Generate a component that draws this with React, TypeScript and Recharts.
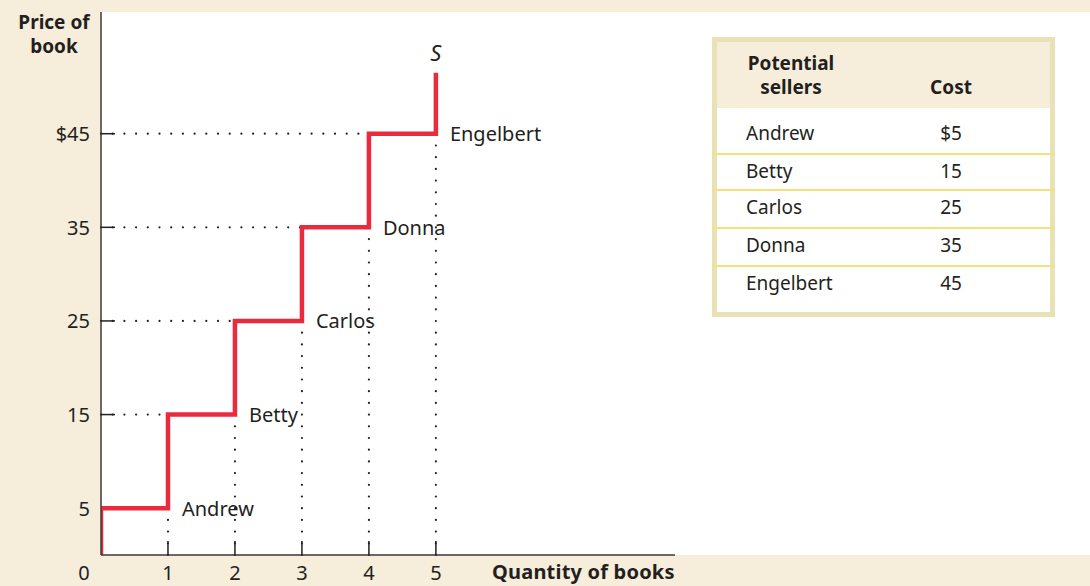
import { ComposedChart, Line, Scatter, XAxis, YAxis, ReferenceLine, ReferenceDot } from "recharts"

// potential sellers and their cost
const sellers = ["Andrew", "Betty", "Carlos", "Donna", "Engelbert"]
const costs = [5, 15, 25, 35, 45]
const supplyTop = 51.5
const quantityTicks = [0, 1, 2, 3, 4, 5]
const priceTicks = [5, 15, 25, 35, 45]

const INK = "#231f20"
const RED = "#ea2a3d"
const FONT = "'Noto Sans', sans-serif"

// supply curve: start at 0, then each seller's cost, then the top stub
const supplyData = [
  { qty: 0, price: 0 },
  ...costs.map((c, i) => ({ qty: i, price: c })),
  { qty: costs.length, price: supplyTop },
]
const sellerPoints = sellers.map((name, i) => ({ qty: i + 1, price: costs[i], name }))

const YTick = (props: any) => {
  const { x, y, payload } = props
  const label = payload.value === 45 ? "$45" : String(payload.value)
  // lowest tick sits under the first step of the curve
  const showLine = payload.value !== costs[0]
  return (
    <g>
      {showLine && <line x1={x} x2={x + 14} y1={y} y2={y} stroke={INK} strokeWidth={1.5} />}
      <text x={x - 11} y={y} textAnchor="end" dominantBaseline="central" fill={INK} fontSize={20} fontFamily={FONT}>
        {label}
      </text>
    </g>
  )
}

const XTick = (props: any) => {
  const { x, y, payload } = props
  const zero = payload.value === 0
  return (
    <g>
      {!zero && <line x1={x} x2={x} y1={y} y2={y - 14} stroke={INK} strokeWidth={1.5} />}
      <text x={zero ? x - 17 : x} y={y + 17} textAnchor="middle" dominantBaseline="central" fill={INK} fontSize={20} fontFamily={FONT}>
        {payload.value}
      </text>
    </g>
  )
}

const SellerLabel = (props: any) => {
  const { cx, cy, payload } = props
  return (
    <text x={cx + 14} y={cy} dominantBaseline="central" fill={INK} fontSize={20} fontFamily={FONT}>
      {payload.name}
    </text>
  )
}

const dotted = { stroke: INK, strokeWidth: 2.2, strokeDasharray: "0 11.7", strokeLinecap: "round" as const }

const rowHeights = [45, 36, 38, 38, 47]

export default function App() {
  return (
    <div style={{ position: "relative", width: 1090, height: 586, background: "#f6eddb", overflow: "hidden", fontFamily: FONT, color: INK }}>
      <style>{"body{margin:0}"}</style>
      <div style={{ position: "absolute", left: 101, top: 12, width: 989, height: 543, background: "#fff" }} />

      <div style={{ position: "absolute", left: 0, top: 0 }}>
        <ComposedChart width={1090} height={586} margin={{ top: 12, right: 415, bottom: 0, left: 0 }}>
          <XAxis
            type="number"
            dataKey="qty"
            domain={[0, 8.57]}
            ticks={quantityTicks}
            tick={<XTick />}
            tickSize={0}
            tickMargin={0}
            height={31}
            axisLine={{ stroke: "#3a3a3a", strokeWidth: 1.5 }}
            tickLine={false}
            allowDataOverflow
          />
          <YAxis
            type="number"
            domain={[0, 58]}
            ticks={priceTicks}
            tick={<YTick />}
            tickSize={0}
            tickMargin={0}
            width={101}
            axisLine={{ stroke: "#3a3a3a", strokeWidth: 1.5 }}
            tickLine={false}
            allowDataOverflow
          />

          {costs.map((c, i) =>
            i > 0 ? (
              <ReferenceLine key={"h" + i} segment={[{ x: 0, y: c }, { x: i, y: c }]} {...dotted} />
            ) : null
          )}
          {costs.map((c, i) => (
            <ReferenceLine key={"v" + i} segment={[{ x: i + 1, y: 0 }, { x: i + 1, y: c }]} {...dotted} />
          ))}

          <Line
            data={supplyData}
            dataKey="price"
            type="stepAfter"
            stroke={RED}
            strokeWidth={4.5}
            strokeLinejoin="miter"
            strokeLinecap="butt"
            dot={false}
            activeDot={false}
            isAnimationActive={false}
          />
          <Scatter data={sellerPoints} dataKey="price" shape={<SellerLabel />} isAnimationActive={false} />
          <ReferenceDot
            x={costs.length}
            y={supplyTop}
            r={0}
            label={{ value: "S", position: "top", offset: 12, fill: INK, fontSize: 22, fontStyle: "italic", fontFamily: FONT }}
          />
        </ComposedChart>
      </div>

      <div style={{ position: "absolute", left: 14, width: 80, top: 10, textAlign: "center", fontWeight: 700, fontSize: 19, lineHeight: "24px" }}>
        <div>Price of</div>
        <div>book</div>
      </div>
      <div style={{ position: "absolute", left: 492, top: 559, fontWeight: 700, fontSize: 20, letterSpacing: 0.2, lineHeight: "26px", whiteSpace: "nowrap" }}>
        Quantity of books
      </div>

      <div style={{ position: "absolute", left: 712, top: 37, width: 333, height: 270, border: "5px solid #e9e2b6", background: "#fff" }}>
        <div style={{ height: 66, background: "#f6eddb", position: "relative", fontWeight: 700, fontSize: 19, lineHeight: "24px" }}>
          <div style={{ position: "absolute", left: 29, top: 9, width: 90, textAlign: "center" }}>
            <div>Potential</div>
            <div>sellers</div>
          </div>
          <div style={{ position: "absolute", left: 194, top: 33, width: 80, textAlign: "center" }}>Cost</div>
        </div>
        {sellers.map((name, i) => (
          <div
            key={name}
            style={{
              position: "relative",
              boxSizing: "border-box",
              height: rowHeights[i],
              borderTop: i > 0 ? "2px solid #f1e27c" : "none",
              marginLeft: -5,
              marginRight: -5,
              fontSize: 19,
              lineHeight: "26px",
            }}
          >
            <div style={{ position: "absolute", left: 34, top: i === 0 ? 12 : 3 }}>{name}</div>
            <div style={{ position: "absolute", left: 199, top: i === 0 ? 12 : 3, width: 80, textAlign: "center" }}>
              {i === 0 ? "$" + costs[i] : costs[i]}
            </div>
          </div>
        ))}
      </div>
    </div>
  )
}
